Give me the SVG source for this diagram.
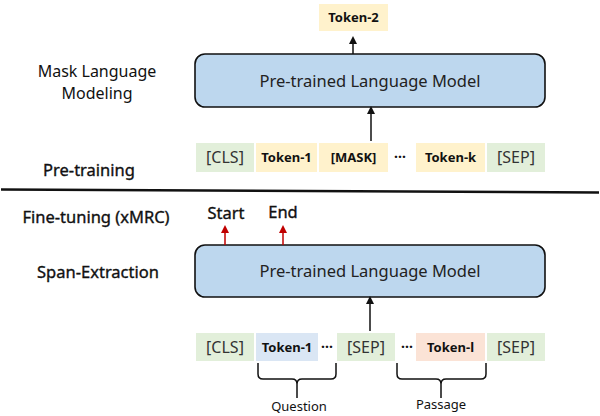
<svg xmlns="http://www.w3.org/2000/svg" width="600" height="416" viewBox="0 0 600 416">
<style>
text{font-family:"Noto Sans","Open Sans","DejaVu Sans",sans-serif;fill:#111;}
.lbl{font-size:16px;text-anchor:middle;}
.lblb{font-size:16.5px;text-anchor:middle;stroke:#111;stroke-width:0.35;}
.model{fill:#bdd7ee;stroke:#111;stroke-width:1.6;}
.mtxt{font-size:16.5px;text-anchor:middle;fill:#222;}
.tokb{font-size:13px;font-weight:bold;text-anchor:middle;}
.tokr{font-size:16px;text-anchor:middle;fill:#333;}
.g{fill:#e2efda;}
.y{fill:#fff2cc;}
.b{fill:#dae6f4;}
.s{fill:#fbe3d6;}
.ar{stroke:#111;stroke-width:1.5;fill:none;}
.arr{stroke:#c00000;stroke-width:1.5;fill:none;}
.br{stroke:#111;stroke-width:1.5;fill:none;}
.dots{font-size:14px;text-anchor:middle;font-weight:bold;}
.sm{font-size:13px;text-anchor:middle;}
</style>
<defs>
<marker id="ah" markerWidth="8" markerHeight="8" refX="4" refY="4" orient="auto" markerUnits="userSpaceOnUse"><path d="M0,0 L8,4 L0,8 z" fill="#111"/></marker>
<marker id="ahr" markerWidth="8" markerHeight="8" refX="4" refY="4" orient="auto" markerUnits="userSpaceOnUse"><path d="M0,0 L8,4 L0,8 z" fill="#c00000"/></marker>
</defs>

<g id="labels">
<text class="lbl" x="97" y="77">Mask Language</text>
<text class="lbl" x="97" y="98.5">Modeling</text>
<text class="lblb" x="89" y="176">Pre-training</text>
<text class="lblb" x="96" y="223">Fine-tuning (xMRC)</text>
<text class="lblb" x="98" y="278">Span-Extraction</text>
<text class="lblb" x="226" y="219">Start</text>
<text class="lblb" x="283" y="218">End</text>
<text class="sm" x="299" y="411">Question</text>
<text class="sm" x="441" y="409">Passage</text>
</g>

<line x1="1" y1="189.5" x2="599" y2="192.5" stroke="#111" stroke-width="2.5"/>

<g id="token2"><rect class="y" x="319" y="4" width="69" height="27"/><text class="tokb" x="353.5" y="22">Token-2</text></g>

<g id="model-top"><rect class="model" x="195" y="54" width="350" height="53" rx="10"/><text class="mtxt" x="370" y="87">Pre-trained Language Model</text></g>
<g id="model-bottom"><rect class="model" x="195" y="245" width="350" height="52" rx="10"/><text class="mtxt" x="370" y="277">Pre-trained Language Model</text></g>

<g id="row-top">
<g id="t-cls"><rect class="g" x="196" y="143" width="58" height="29"/><text class="tokr" x="225" y="163">[CLS]</text></g>
<g id="t-tok1"><rect class="y" x="256" y="143" width="61" height="29"/><text class="tokb" x="286.5" y="162">Token-1</text></g>
<g id="t-mask"><rect class="y" x="319" y="143" width="69" height="29"/><text class="tokb" x="353.5" y="162">[MASK]</text></g>
<text class="dots" x="400" y="162">···</text>
<g id="t-tokk"><rect class="y" x="416" y="143" width="69" height="29"/><text class="tokb" x="450.5" y="162">Token-k</text></g>
<g id="t-sep"><rect class="g" x="487" y="143" width="58" height="29"/><text class="tokr" x="516" y="163">[SEP]</text></g>
</g>

<g id="row-bottom">
<g id="b-cls"><rect class="g" x="196" y="333" width="58" height="28"/><text class="tokr" x="225" y="353">[CLS]</text></g>
<g id="b-tok1"><rect class="b" x="256" y="333" width="62" height="28"/><text class="tokb" x="287" y="352">Token-1</text></g>
<text class="dots" x="327" y="352">···</text>
<g id="b-sep1"><rect class="g" x="337" y="333" width="58" height="28"/><text class="tokr" x="366" y="353">[SEP]</text></g>
<text class="dots" x="407" y="352">···</text>
<g id="b-tokl"><rect class="s" x="416" y="333" width="69" height="28"/><text class="tokb" x="450.5" y="352">Token-l</text></g>
<g id="b-sep2"><rect class="g" x="487" y="333" width="58" height="28"/><text class="tokr" x="516" y="353">[SEP]</text></g>
</g>

<g id="connectors">
<line class="ar" x1="353" y1="54" x2="353" y2="40" marker-end="url(#ah)"/>
<line class="ar" x1="371" y1="141" x2="371" y2="110" marker-end="url(#ah)"/>
<line class="ar" x1="370" y1="331" x2="370" y2="300" marker-end="url(#ah)"/>
<line class="arr" x1="225" y1="245" x2="225" y2="229" marker-end="url(#ahr)"/>
<line class="arr" x1="283" y1="245" x2="283" y2="229" marker-end="url(#ahr)"/>
<path class="br" d="M258,363 V374 Q258,379 263,379 H292 Q297,379 297,384 V398 M297,384 Q297,379 302,379 H331 Q336,379 336,374 V363"/>
<path class="br" d="M397,363 V374 Q397,379 402,379 H436 Q441,379 441,384 V398 M441,384 Q441,379 446,379 H481 Q486,379 486,374 V363"/>
</g>
</svg>
